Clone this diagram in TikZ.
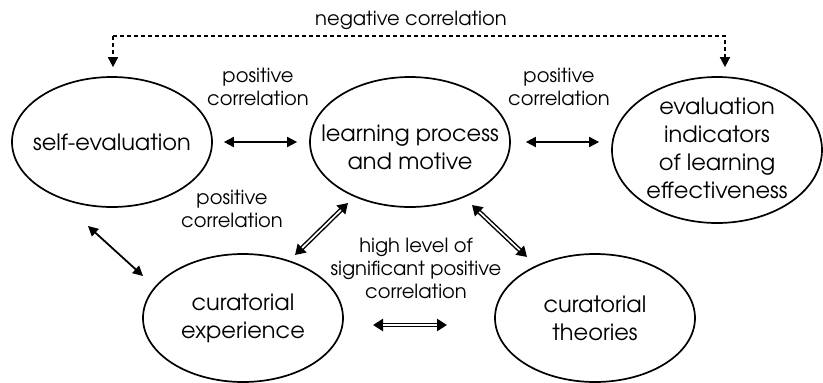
\documentclass[tikz,border=0pt]{standalone}
\usepackage{fontspec}
\setmainfont{TeX Gyre Adventor}
\usetikzlibrary{arrows.meta,shapes.geometric}
\tikzset{
  circ/.style={draw,ellipse,line width=1.7pt,inner sep=0pt},
  intext/.style={align=center,font=\fontsize{22.5}{28}\selectfont},
  lbl/.style={align=center,font=\fontsize{19.5}{23}\selectfont},
  biarrow/.style={line width=1.8pt,{Triangle[length=10pt,width=10pt]}-{Triangle[length=10pt,width=10pt]}},
  dbarrow/.style={line width=4.6pt,{Triangle[length=10pt,width=12pt]}-{Triangle[length=10pt,width=12pt]},
    postaction={draw=white,line width=1.7pt,arrows=-,shorten <=10pt,shorten >=10pt}},
  negline/.style={line width=1.6pt,dash pattern=on 4pt off 3pt,-{Triangle[length=10pt,width=10pt]},shorten >=9pt}
}

\begin{document}
\begin{tikzpicture}[x=1pt,y=-1pt]
		\useasboundingbox (0,0) rectangle (823,383);
		\node [circ,minimum width=200pt,minimum height=130pt,
			label={[intext]center:self-evaluation}] (self) at (112,142) {};
		\node [circ,minimum width=200pt,minimum height=130pt,
			label={[intext,yshift=-5pt]center:{learning process\\and motive}}] (learn) at (410,142) {};
		\node [circ,minimum width=210pt,minimum height=146pt,
			label={[intext,yshift=2pt]center:{evaluation\\indicators\\of learning\\effectiveness}}] (evalind) at (717,150) {};
		\node [circ,minimum width=200pt,minimum height=128pt,
			label={[intext]center:{curatorial\\experience}}] (exper) at (243,318) {};
		\node [circ,minimum width=200pt,minimum height=128pt,
			label={[intext]center:{curatorial\\theories}}] (theory) at (595,318) {};
		% arrow ends
		\coordinate (se1) at (88,226);
		\coordinate (se2) at (143,276);
		\coordinate (le1) at (348,203);
		\coordinate (le2) at (295,255);
		\coordinate (lt1) at (472,205);
		\coordinate (lt2) at (527,257);
		\coordinate (et1) at (373,325);
		\coordinate (et2) at (447,325);
		\coordinate (neg1) at (113,36);
		\coordinate (neg2) at (725,36);
		% positive
		\draw [biarrow,shorten <=11pt,shorten >=12pt] (self) -- (learn);
		\draw [biarrow,shorten <=15pt,shorten >=12pt] (learn) -- (evalind.west |- learn);
		\draw [biarrow] (se1) -- (se2);
		% high level
		\draw [dbarrow] (le1) -- (le2);
		\draw [dbarrow] (lt1) -- (lt2);
		\draw [dbarrow] (et1) -- (et2);
		% negative
		\draw [negline] (neg1) -- (neg2) -- (evalind.north -| neg2);
		\draw [negline] (neg1) -- (self.north -| neg1);
		\node [lbl] (negtxt) at (411,20) {negative correlation};
		\node [lbl] (postxt1) at (258,87) {positive\\correlation};
		\node [lbl] (postxt2) at (559,87) {positive\\correlation};
		\node [lbl] (postxt3) at (232,209) {positive\\correlation};
		\node [lbl] (hightxt) at (416,268) {high level of\\significant positive\\correlation};
\end{tikzpicture}
\end{document}
